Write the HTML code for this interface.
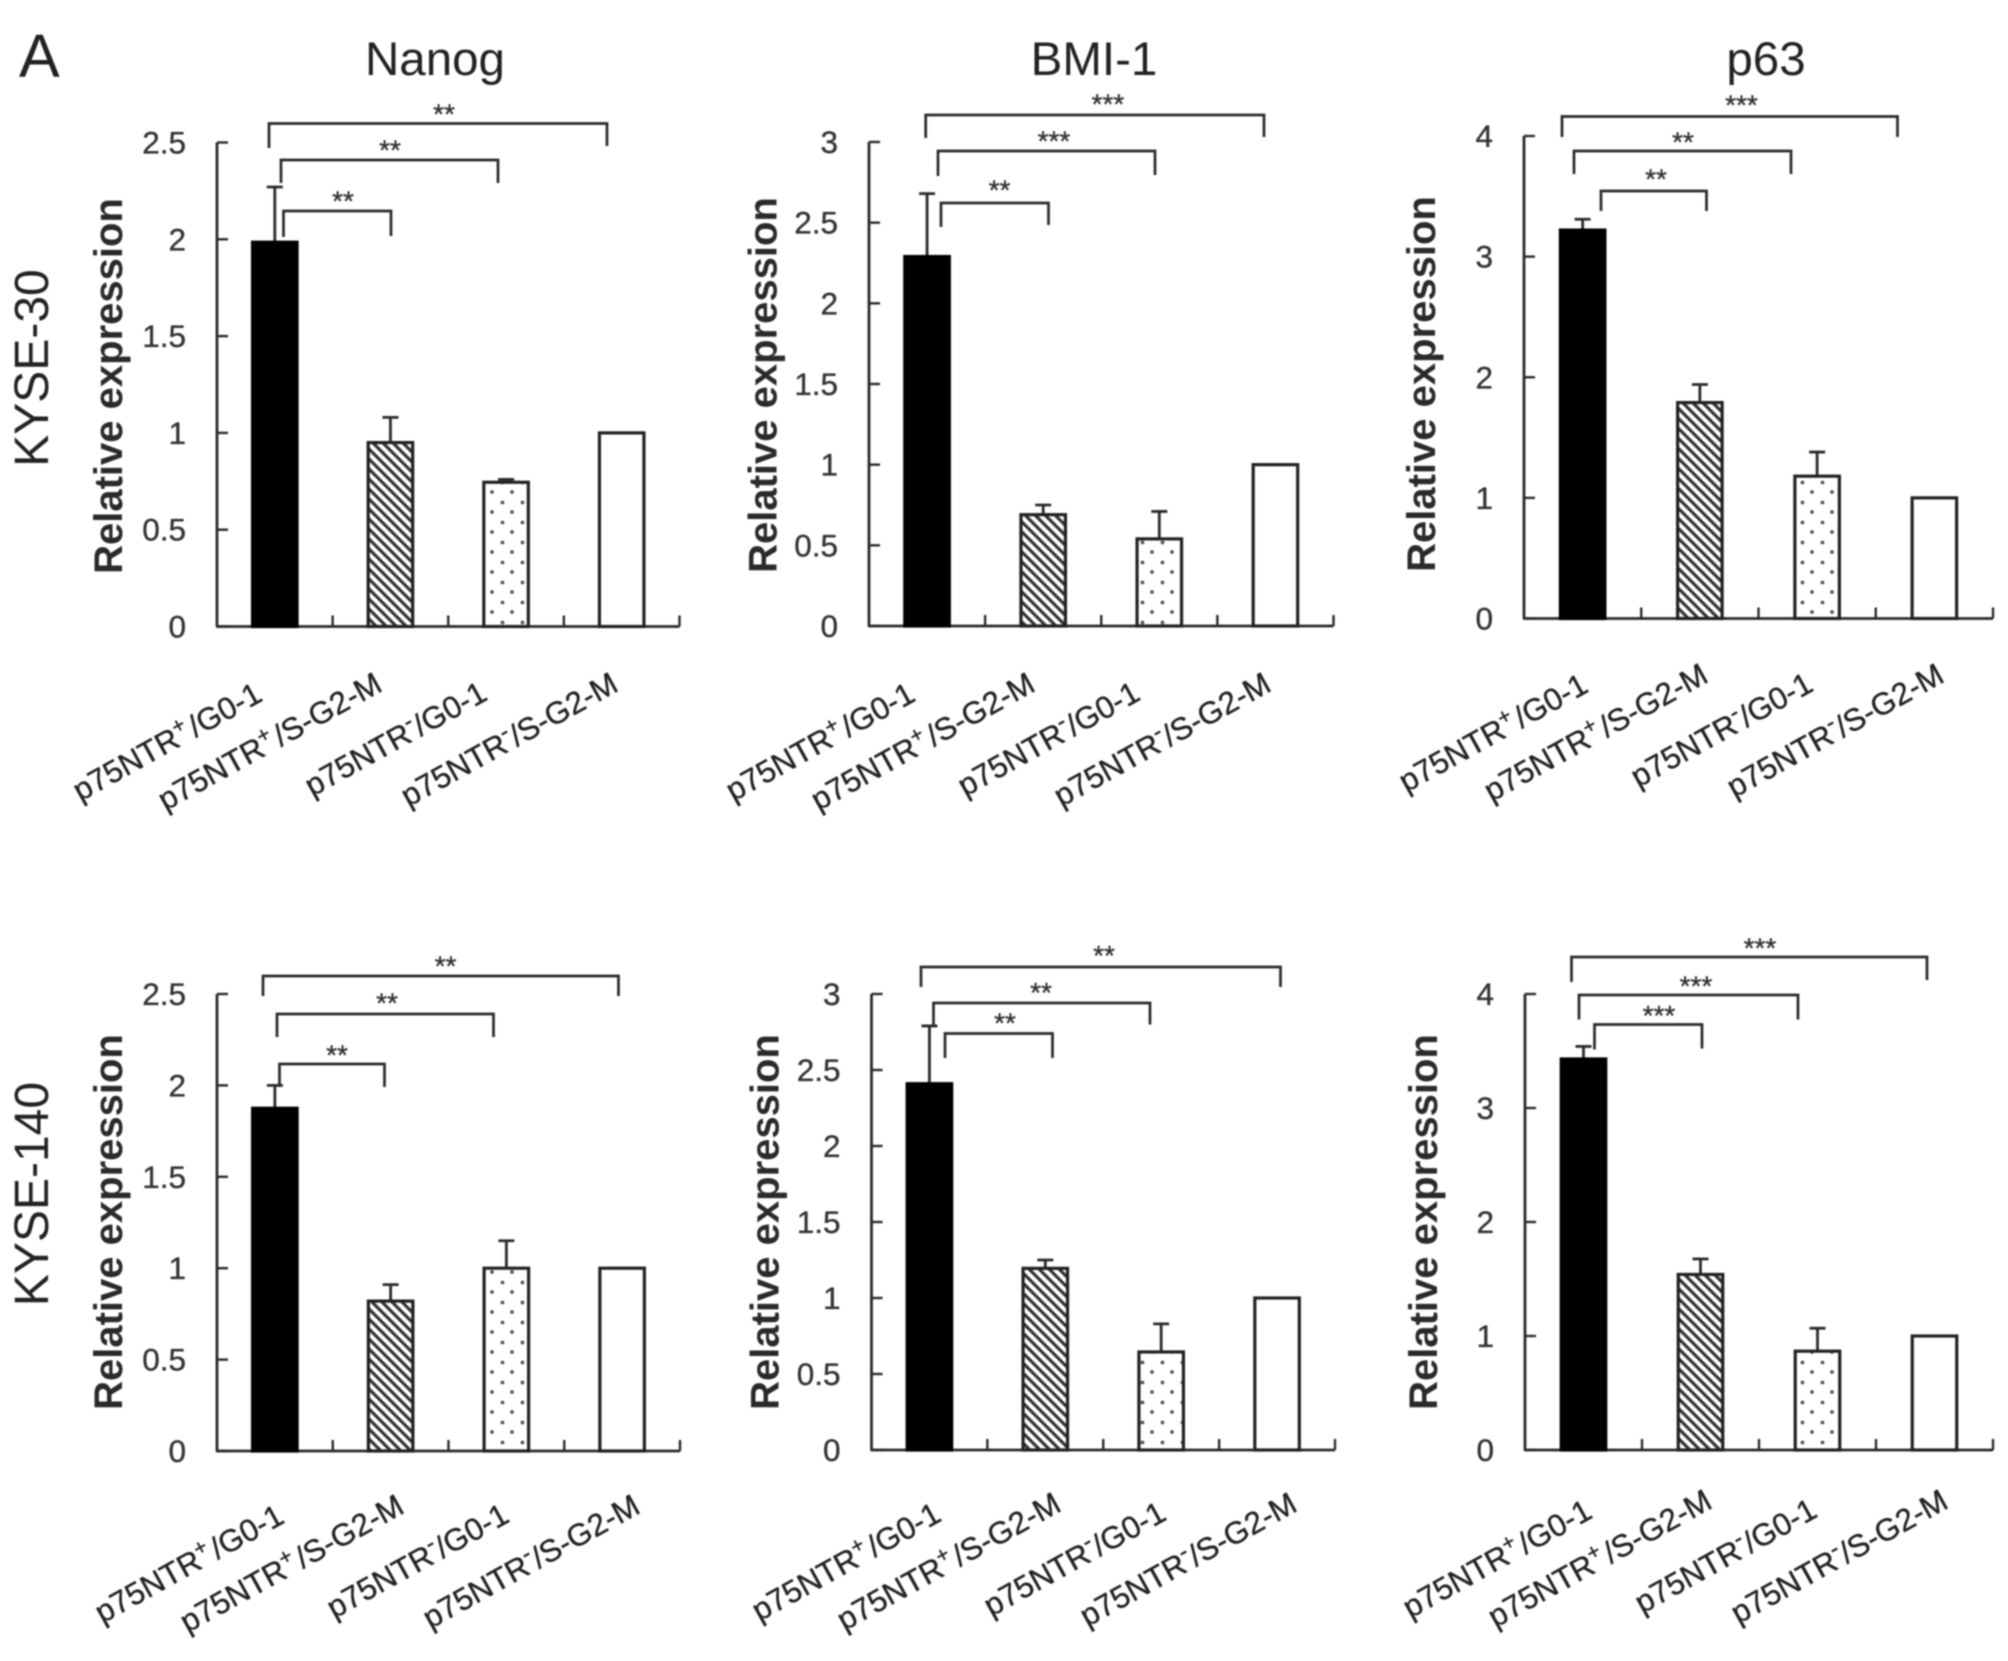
<!DOCTYPE html>
<html lang="en">
<head>
<meta charset="utf-8">
<title>Relative expression of Nanog, BMI-1 and p63</title>
<style>
html,body{margin:0;padding:0;background:#fff;}
body{width:2008px;height:1661px;overflow:hidden;}
svg{display:block;filter:blur(0.7px);}
text{font-family:"Liberation Sans",Arial,sans-serif;fill:#222;}
</style>
</head>
<body>
<svg id="figure" xmlns="http://www.w3.org/2000/svg" width="2008" height="1661" viewBox="0 0 2008 1661">
  <defs>
    <pattern id="hatch" patternUnits="userSpaceOnUse" width="10" height="10">
      <rect width="10" height="10" fill="#fff"/>
      <path d="M-2 -2L12 12M-2 8L2 12M8 -2L12 2" stroke="#333" stroke-width="3.2"/>
    </pattern>
    <pattern id="dots" patternUnits="userSpaceOnUse" width="20" height="20">
      <rect width="20" height="20" fill="#fff"/>
      <circle cx="12" cy="12" r="1.9" fill="#555"/>
      <circle cx="2.5" cy="2.5" r="1.9" fill="#555"/>
    </pattern>
  </defs>
  <rect width="2008" height="1661" fill="#fff"/>
  <text x="19" y="77" font-size="61">A</text>
  <text x="435" y="75" font-size="47.5" text-anchor="middle">Nanog</text>
  <text x="1094" y="75" font-size="47.5" text-anchor="middle">BMI-1</text>
  <text x="1766" y="75" font-size="47.5" text-anchor="middle">p63</text>
  <text transform="translate(48,368) rotate(-90)" font-size="48" text-anchor="middle">KYSE-30</text>
  <text transform="translate(48,1194) rotate(-90)" font-size="48" text-anchor="middle">KYSE-140</text>
</svg>
<script>
// ---- chart data ----
const categorySigns = ['+', '+', '-', '-'];
const categoryPhases = ['G0-1', 'S-G2-M', 'G0-1', 'S-G2-M'];
const yTicksNanog = [0, 0.5, 1, 1.5, 2, 2.5];
const yTicksBmi = [0, 0.5, 1, 1.5, 2, 2.5, 3];
const yTicksP63 = [0, 1, 2, 3, 4];

const kyse30NanogMeans = [1.985, 0.95, 0.745, 1];
const kyse30NanogUpper = [2.27, 1.08, 0.76, null];
const kyse30BmiMeans = [2.29, 0.69, 0.54, 1];
const kyse30BmiUpper = [2.68, 0.75, 0.71, null];
const kyse30P63Means = [3.22, 1.79, 1.18, 1];
const kyse30P63Upper = [3.31, 1.94, 1.38, null];
const kyse140NanogMeans = [1.875, 0.82, 1, 1];
const kyse140NanogUpper = [2.0, 0.91, 1.15, null];
const kyse140BmiMeans = [2.41, 1.195, 0.645, 1];
const kyse140BmiUpper = [2.79, 1.25, 0.83, null];
const kyse140P63Means = [3.43, 1.54, 0.867, 1];
const kyse140P63Upper = [3.54, 1.676, 1.068, null];

const kyse30NanogStars = ['**', '**', '**'];
const kyse30BmiStars = ['***', '***', '**'];
const kyse30P63Stars = ['***', '**', '**'];
const kyse140NanogStars = ['**', '**', '**'];
const kyse140BmiStars = ['**', '**', '**'];
const kyse140P63Stars = ['***', '***', '***'];

// ---- layout (not data) ----
const labelEnds = [[264, 700], [384, 690], [489, 699], [620, 690]];
const fills = ['#000', 'url(#hatch)', 'url(#dots)', '#fff'];
const panels = [
  {id: 'kyse-30-nanog', means: kyse30NanogMeans, upper: kyse30NanogUpper, ticks: yTicksNanog, stars: kyse30NanogStars,
   x0: 217, x1: 679.5, y0: 626.5, yTop: 142.5, titleX: 122, titleY: 386, lblDx: 0, lblDy: 0,
   brackets: [[269, 607, 123.5, 148, 146, 444, 110], [281, 498, 160, 183, 183, 390, 146], [283.5, 391, 211, 237, 236, 343, 197]]},
  {id: 'kyse-30-bmi-1', means: kyse30BmiMeans, upper: kyse30BmiUpper, ticks: yTicksBmi, stars: kyse30BmiStars,
   x0: 869, x1: 1333.5, y0: 626, yTop: 142, titleX: 776.5, titleY: 385, lblDx: 653, lblDy: 0,
   brackets: [[925.7, 1264, 115, 138, 137, 1108, 100], [938, 1155, 151, 176, 175, 1054, 137], [941, 1048.5, 203, 227, 225, 999.5, 186]]},
  {id: 'kyse-30-p63', means: kyse30P63Means, upper: kyse30P63Upper, ticks: yTicksP63, stars: kyse30P63Stars,
   x0: 1524, x1: 1993, y0: 618.5, yTop: 136, titleX: 1435, titleY: 384, lblDx: 1326, lblDy: -9,
   brackets: [[1562, 1897.5, 116.5, 137, 137, 1741.5, 101], [1574, 1791, 151, 174, 174, 1683, 138], [1601, 1706.5, 191, 211, 211, 1656, 175]]},
  {id: 'kyse-140-nanog', means: kyse140NanogMeans, upper: kyse140NanogUpper, ticks: yTicksNanog, stars: kyse140NanogStars,
   x0: 217, x1: 680, y0: 1451, yTop: 994, titleX: 122, titleY: 1222, lblDx: 22, lblDy: 822,
   brackets: [[263, 618.5, 976, 996, 996, 445.5, 962], [277, 493.5, 1014, 1037, 1037, 387, 999], [279.5, 384.5, 1064, 1087, 1087, 337, 1051]]},
  {id: 'kyse-140-bmi-1', means: kyse140BmiMeans, upper: kyse140BmiUpper, ticks: yTicksBmi, stars: kyse140BmiStars,
   x0: 871.5, x1: 1335, y0: 1450, yTop: 994, titleX: 778.5, titleY: 1222, lblDx: 679, lblDy: 820,
   brackets: [[921, 1280.5, 967, 987, 987, 1104, 951.5], [933.5, 1150, 1003, 1024.5, 1024.5, 1041, 988.5], [945, 1052.5, 1033.5, 1058, 1058, 1005, 1019]]},
  {id: 'kyse-140-p63', means: kyse140P63Means, upper: kyse140P63Upper, ticks: yTicksP63, stars: kyse140P63Stars,
   x0: 1525, x1: 1993, y0: 1450, yTop: 994, titleX: 1437, titleY: 1222, lblDx: 1330, lblDy: 817,
   brackets: [[1571.5, 1927, 957, 982, 980, 1760, 944], [1579, 1798, 995, 1019.5, 1019.5, 1696, 982], [1594.5, 1702, 1024.5, 1049.5, 1048.5, 1659, 1011.5]]}
];

const NS = 'http://www.w3.org/2000/svg';
const svg = document.getElementById('figure');
const INK = '#2a2a2a';

function mk(tag, attrs, parent) {
  const node = document.createElementNS(NS, tag);
  for (const k in attrs) node.setAttribute(k, attrs[k]);
  parent.appendChild(node);
  return node;
}

panels.forEach(function (p) {
  const g = mk('g', {}, svg);
  
  

  const yMax = p.ticks[p.ticks.length - 1];
  const yScale = function (v) { return p.y0 - (v / yMax) * (p.y0 - p.yTop); };
  const band = (p.x1 - p.x0) / p.means.length;
  const xCenter = function (i) { return p.x0 + band * (i + 0.5); };

  // axes
  const yAxis = mk('line', {x1: p.x0, x2: p.x0, y1: p.yTop, y2: p.y0, stroke: INK, 'stroke-width': 2.8}, g);
  
  
  const xAxis = mk('line', {x1: p.x0 - 1, x2: p.x1, y1: p.y0, y2: p.y0, stroke: INK, 'stroke-width': 2.8}, g);
  
  

  // y ticks + labels
  p.ticks.forEach(function (t) {
    const y = yScale(t);
    const tick = mk('line', {x1: p.x0, x2: p.x0 + 11, y1: y, y2: y, stroke: INK, 'stroke-width': 2.4}, g);
    
    
    const lab = mk('text', {x: p.x0 - 31, y: y + 11, 'font-size': 31.5, 'text-anchor': 'end', stroke: '#333', 'stroke-width': 0.35, style: 'fill:#333'}, g);
    lab.textContent = String(t);
    
    
  });

  // x ticks
  for (let i = 1; i <= p.means.length; i++) {
    const x = p.x0 + band * i;
    const tick = mk('line', {x1: x, x2: x, y1: p.y0 - 11, y2: p.y0, stroke: INK, 'stroke-width': 2.4}, g);
    
    
  }

  // y-axis title
  const yTitle = mk('text', {transform: 'translate(' + p.titleX + ',' + p.titleY + ') rotate(-90)', 'font-size': 40, 'font-weight': 'bold', 'text-anchor': 'middle', style: 'fill:#2a2a2a'}, g);
  yTitle.textContent = 'Relative expression';
  
  

  // bars and error bars
  p.means.forEach(function (m, i) {
    const cx = xCenter(i);
    const w = 44.5;
    if (p.upper[i] !== null) {
      const e = yScale(p.upper[i]);
      const stem = mk('line', {x1: cx, x2: cx, y1: yScale(m), y2: e, stroke: INK, 'stroke-width': 2.8}, g);
      
      
      const cap = mk('line', {x1: cx - 8, x2: cx + 8, y1: e, y2: e, stroke: INK, 'stroke-width': 2.8}, g);
      
      
    }
    const bar = mk('rect', {x: cx - w / 2, y: yScale(m), width: w, height: p.y0 - yScale(m), fill: fills[i], stroke: i === 0 ? '#000' : '#222', 'stroke-width': 3.2}, g);
    
    
  });

  // category labels
  categorySigns.forEach(function (sign, i) {
    const ax = labelEnds[i][0] + p.lblDx;
    const ay = labelEnds[i][1] + p.lblDy;
    const t = mk('text', {transform: 'translate(' + ax + ',' + ay + ') rotate(-29)', 'font-size': 31.2, 'text-anchor': 'end', stroke: '#222', 'stroke-width': 0.35, style: 'fill:#222'}, g);
    
    
    mk('tspan', {}, t).textContent = 'p75NTR';
    mk('tspan', {dy: -12, 'font-size': sign === '+' ? 22 : 24}, t).textContent = sign;
    mk('tspan', {dy: 12, dx: sign === '+' ? 3 : 0}, t).textContent = '/' + categoryPhases[i];
  });

  // significance brackets
  p.brackets.forEach(function (b, i) {
    const path = mk('path', {d: 'M' + b[0] + ' ' + b[3] + 'V' + b[2] + 'H' + b[1] + 'V' + b[4], fill: 'none', stroke: INK, 'stroke-width': 2.7}, g);
    
    
    const star = mk('text', {x: b[5], y: b[6] + 13.5, 'font-size': 28, 'text-anchor': 'middle', stroke: '#333', 'stroke-width': 0.4, style: 'fill:#333'}, g);
    star.textContent = p.stars[i];
    
    
  });
});
</script>
</body>
</html>
